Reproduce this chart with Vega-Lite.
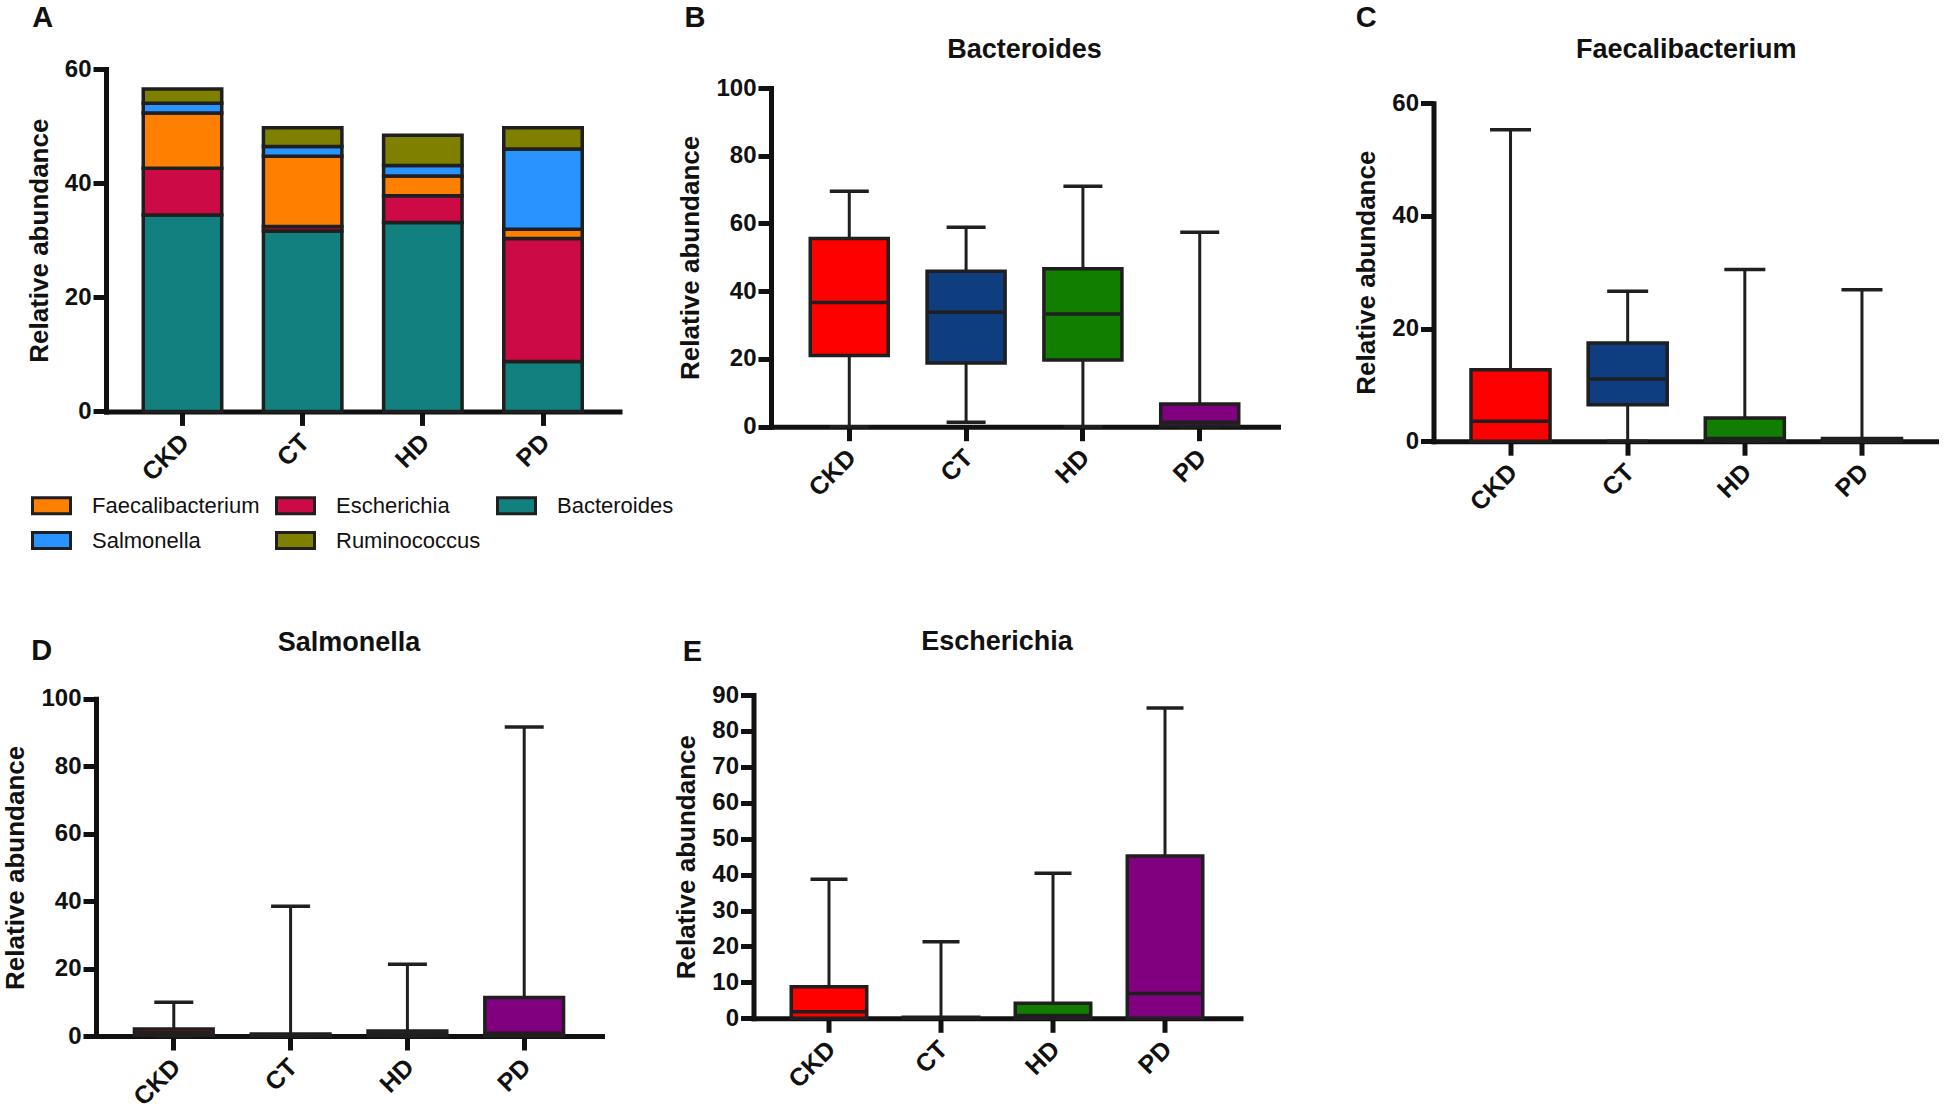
{
  "$schema": "https://vega.github.io/schema/vega-lite/v6.json",
  "padding": {"left": 2, "top": 4, "right": 0, "bottom": 0},
  "config": {
    "view": {"stroke": null},
    "font": "Liberation Sans",
    "axis": {"domainColor": "#111111", "domainWidth": 5, "domainCap": "square", "tickColor": "#111111", "tickWidth": 5, "tickSize": 13, "labelColor": "#111111", "labelFont": "Liberation Sans", "labelFontSize": 24, "labelFontWeight": "bold", "labelPadding": 2, "titleColor": "#111111", "titleFont": "Liberation Sans", "titleFontSize": 26, "titleFontWeight": "bold", "grid": false},
    "axisX": {"labelAngle": -45, "tickSize": 14, "labelPadding": 4, "labelOffset": -6, "labelFontSize": 25},
    "axisY": {"titlePadding": 12},
    "title": {"font": "Liberation Sans", "fontWeight": "bold", "color": "#111111"}
  },
  "datasets": {
    "stack": [
      {"group": "CKD", "genus": "Bacteroides", "value": 34.4, "ord": 1},
      {"group": "CKD", "genus": "Escherichia", "value": 8.2, "ord": 2},
      {"group": "CKD", "genus": "Faecalibacterium", "value": 9.7, "ord": 3},
      {"group": "CKD", "genus": "Salmonella", "value": 1.7, "ord": 4},
      {"group": "CKD", "genus": "Ruminococcus", "value": 2.5, "ord": 5},
      {"group": "CT", "genus": "Bacteroides", "value": 31.6, "ord": 1},
      {"group": "CT", "genus": "Escherichia", "value": 0.8, "ord": 2},
      {"group": "CT", "genus": "Faecalibacterium", "value": 12.3, "ord": 3},
      {"group": "CT", "genus": "Salmonella", "value": 1.7, "ord": 4},
      {"group": "CT", "genus": "Ruminococcus", "value": 3.3, "ord": 5},
      {"group": "HD", "genus": "Bacteroides", "value": 33.1, "ord": 1},
      {"group": "HD", "genus": "Escherichia", "value": 4.7, "ord": 2},
      {"group": "HD", "genus": "Faecalibacterium", "value": 3.45, "ord": 3},
      {"group": "HD", "genus": "Salmonella", "value": 1.85, "ord": 4},
      {"group": "HD", "genus": "Ruminococcus", "value": 5.3, "ord": 5},
      {"group": "PD", "genus": "Bacteroides", "value": 8.75, "ord": 1},
      {"group": "PD", "genus": "Escherichia", "value": 21.55, "ord": 2},
      {"group": "PD", "genus": "Faecalibacterium", "value": 1.6, "ord": 3},
      {"group": "PD", "genus": "Salmonella", "value": 14.1, "ord": 4},
      {"group": "PD", "genus": "Ruminococcus", "value": 3.7, "ord": 5}
    ],
    "bact": [
      {"group": "CKD", "min": 0, "q1": 21.0, "med": 36.7, "q3": 55.6, "max": 69.5},
      {"group": "CT", "min": 1.3, "q1": 18.8, "med": 33.8, "q3": 45.9, "max": 58.9},
      {"group": "HD", "min": 0, "q1": 19.7, "med": 33.3, "q3": 46.6, "max": 71.0},
      {"group": "PD", "min": 0, "q1": 0.2, "med": 1.3, "q3": 6.7, "max": 57.4}
    ],
    "faec": [
      {"group": "CKD", "min": 0, "q1": 0, "med": 3.55, "q3": 12.7, "max": 55.3},
      {"group": "CT", "min": 0, "q1": 6.45, "med": 11.06, "q3": 17.45, "max": 26.6},
      {"group": "HD", "min": 0, "q1": 0.1, "med": 0.5, "q3": 4.1, "max": 30.5},
      {"group": "PD", "min": 0, "q1": 0, "med": 0.15, "q3": 0.5, "max": 26.9}
    ],
    "salm": [
      {"group": "CKD", "min": 0, "q1": 0.2, "med": 1.0, "q3": 2.1, "max": 10.0},
      {"group": "CT", "min": 0, "q1": 0, "med": 0.2, "q3": 0.6, "max": 38.5},
      {"group": "HD", "min": 0, "q1": 0.1, "med": 0.6, "q3": 1.5, "max": 21.3},
      {"group": "PD", "min": 0, "q1": 0, "med": 0.8, "q3": 11.4, "max": 91.6}
    ],
    "esch": [
      {"group": "CKD", "min": 0, "q1": 0, "med": 1.8, "q3": 8.8, "max": 38.7},
      {"group": "CT", "min": 0, "q1": 0, "med": 0.1, "q3": 0.3, "max": 21.3},
      {"group": "HD", "min": 0, "q1": 0, "med": 0.8, "q3": 4.2, "max": 40.4},
      {"group": "PD", "min": 0, "q1": 0, "med": 6.9, "q3": 45.2, "max": 86.4}
    ]
  },
  "resolve": {"scale": {"x": "independent", "y": "independent", "color": "independent"}, "legend": {"color": "independent"}},
  "spacing": 72,
  "vconcat": [
    {
      "spacing": 3,
      "resolve": {"scale": {"x": "independent", "y": "independent", "color": "independent"}, "legend": {"color": "independent"}},
      "hconcat": [
        {
          "title": {"text": "A", "anchor": "start", "frame": "bounds", "dx": 6, "offset": 24, "fontSize": 29},
          "vconcat": [
            {
              "width": 523.5,
              "height": 342.4,
              "data": {"name": "stack"},
              "mark": {"type": "bar", "stroke": "#1f1f1f", "strokeWidth": 3.5},
              "encoding": {
                "x": {"field": "group", "type": "nominal", "title": null, "sort": null, "scale": {"paddingInner": 0.347, "paddingOuter": 0.31, "range": [10, 523.5]}},
                "y": {"field": "value", "type": "quantitative", "stack": "zero", "title": "Relative abundance", "scale": {"domain": [0, 60], "nice": false}, "axis": {"values": [0, 20, 40, 60], "offset": -10}},
                "color": {"field": "genus", "type": "nominal",
                  "scale": {"domain": ["Faecalibacterium", "Salmonella", "Escherichia", "Ruminococcus", "Bacteroides"], "range": ["#FF8000", "#2994FF", "#CC0A46", "#808000", "#12807E"]},
                  "legend": {"orient": "none", "legendX": -65, "legendY": 416, "columns": 3, "title": null,
                    "symbolType": "M-1,-0.42H1V0.42H-1Z", "symbolSize": 1444, "symbolStrokeColor": "#1f1f1f", "symbolStrokeWidth": 3, "symbolOpacity": 1,
                    "labelFontSize": 22, "labelFont": "Liberation Sans", "labelColor": "#111111", "labelOffset": 20, "labelLimit": 400, "columnPadding": 10, "rowPadding": 0}},
                "order": {"field": "ord", "type": "quantitative"}
              }
            }
          ]
        },
        {
          "spacing": 75.5,
          "resolve": {"scale": {"x": "independent", "y": "independent", "color": "independent"}},
          "hconcat": [
            {
              "title": {"text": "B", "anchor": "start", "frame": "bounds", "dx": 6.5, "offset": 3, "fontSize": 29},
              "vconcat": [
                {
                  "title": {"text": "Bacteroides", "anchor": "middle", "frame": "group", "fontSize": 27, "offset": 4.8},
                  "width": 507,
                  "height": 357.7,
                  "data": {"name": "bact"},
                  "encoding": {"x": {"field": "group", "type": "nominal", "title": null, "sort": null, "scale": {"paddingInner": 0.332, "paddingOuter": 0.336}}},
                  "layer": [
                    {"mark": {"type": "rule", "strokeWidth": 3, "color": "#1f1f1f"}, "encoding": {"y": {"field": "min", "type": "quantitative", "title": "Relative abundance", "scale": {"domain": [0, 100], "nice": false, "range": [357.7, 19]}, "axis": {"values": [0, 20, 40, 60, 80, 100]}}, "y2": {"field": "max"}}},
                    {"mark": {"type": "tick", "size": 39, "thickness": 3.5, "color": "#1f1f1f", "opacity": 1}, "encoding": {"y": {"field": "max", "type": "quantitative", "title": "Relative abundance", "axis": {"values": [0, 20, 40, 60, 80, 100]}}}},
                    {"mark": {"type": "tick", "size": 39, "thickness": 3.5, "color": "#1f1f1f", "opacity": 1}, "encoding": {"y": {"field": "min", "type": "quantitative", "title": "Relative abundance", "axis": {"values": [0, 20, 40, 60, 80, 100]}}}},
                    {"mark": {"type": "bar", "stroke": "#1f1f1f", "strokeWidth": 3.5, "opacity": 1}, "encoding": {"y": {"field": "q1", "type": "quantitative", "title": "Relative abundance", "axis": {"values": [0, 20, 40, 60, 80, 100]}}, "y2": {"field": "q3"}, "color": {"field": "group", "type": "nominal", "legend": null, "scale": {"domain": ["CKD", "CT", "HD", "PD"], "range": ["#FF0000", "#0E3D80", "#117E00", "#800080"]}}}},
                    {"mark": {"type": "tick", "size": 75, "thickness": 3.5, "color": "#1f1f1f", "opacity": 1}, "encoding": {"y": {"field": "med", "type": "quantitative", "title": "Relative abundance", "axis": {"values": [0, 20, 40, 60, 80, 100]}}}}
                  ]
                }
              ]
            },
            {
              "title": {"text": "C", "anchor": "start", "frame": "bounds", "dx": 2, "offset": 3, "fontSize": 29},
              "vconcat": [
                {
                  "title": {"text": "Faecalibacterium", "anchor": "middle", "frame": "group", "fontSize": 27, "offset": 4.8},
                  "width": 505.5,
                  "height": 372.2,
                  "data": {"name": "faec"},
                  "encoding": {"x": {"field": "group", "type": "nominal", "title": null, "sort": null, "scale": {"paddingInner": 0.325, "paddingOuter": 0.32}}},
                  "layer": [
                    {"mark": {"type": "rule", "strokeWidth": 3, "color": "#1f1f1f"}, "encoding": {"y": {"field": "min", "type": "quantitative", "title": "Relative abundance", "scale": {"domain": [0, 60], "nice": false, "range": [372.2, 34.2]}, "axis": {"values": [0, 20, 40, 60]}}, "y2": {"field": "max"}}},
                    {"mark": {"type": "tick", "size": 41, "thickness": 3.5, "color": "#1f1f1f", "opacity": 1}, "encoding": {"y": {"field": "max", "type": "quantitative", "title": "Relative abundance", "axis": {"values": [0, 20, 40, 60]}}}},
                    {"mark": {"type": "tick", "size": 41, "thickness": 3.5, "color": "#1f1f1f", "opacity": 1}, "encoding": {"y": {"field": "min", "type": "quantitative", "title": "Relative abundance", "axis": {"values": [0, 20, 40, 60]}}}},
                    {"mark": {"type": "bar", "stroke": "#1f1f1f", "strokeWidth": 3.5, "opacity": 1}, "encoding": {"y": {"field": "q1", "type": "quantitative", "title": "Relative abundance", "axis": {"values": [0, 20, 40, 60]}}, "y2": {"field": "q3"}, "color": {"field": "group", "type": "nominal", "legend": null, "scale": {"domain": ["CKD", "CT", "HD", "PD"], "range": ["#FF0000", "#0E3D80", "#117E00", "#800080"]}}}},
                    {"mark": {"type": "tick", "size": 76, "thickness": 3.5, "color": "#1f1f1f", "opacity": 1}, "encoding": {"y": {"field": "med", "type": "quantitative", "title": "Relative abundance", "axis": {"values": [0, 20, 40, 60]}}}}
                  ]
                }
              ]
            }
          ]
        }
      ]
    },
    {
      "spacing": 71.5,
      "resolve": {"scale": {"x": "independent", "y": "independent", "color": "independent"}, "legend": {"color": "independent"}},
      "hconcat": [
        {
          "title": {"text": "D", "anchor": "start", "frame": "bounds", "dx": 28.4, "offset": -37.5, "fontSize": 29},
          "vconcat": [
            {
              "title": {"text": "Salmonella", "anchor": "middle", "frame": "group", "fontSize": 27, "offset": 30.2},
              "width": 506,
              "height": 341,
              "data": {"name": "salm"},
              "encoding": {"x": {"field": "group", "type": "nominal", "title": null, "sort": null, "scale": {"paddingInner": 0.326, "paddingOuter": 0.329}}},
              "layer": [
                {"mark": {"type": "rule", "strokeWidth": 3, "color": "#1f1f1f"}, "encoding": {"y": {"field": "min", "type": "quantitative", "title": "Relative abundance", "scale": {"domain": [0, 100], "nice": false, "range": [341, 3.7]}, "axis": {"values": [0, 20, 40, 60, 80, 100]}}, "y2": {"field": "max"}}},
                {"mark": {"type": "tick", "size": 39, "thickness": 3.5, "color": "#1f1f1f", "opacity": 1}, "encoding": {"y": {"field": "max", "type": "quantitative", "title": "Relative abundance", "axis": {"values": [0, 20, 40, 60, 80, 100]}}}},
                {"mark": {"type": "tick", "size": 39, "thickness": 3.5, "color": "#1f1f1f", "opacity": 1}, "encoding": {"y": {"field": "min", "type": "quantitative", "title": "Relative abundance", "axis": {"values": [0, 20, 40, 60, 80, 100]}}}},
                {"mark": {"type": "bar", "stroke": "#1f1f1f", "strokeWidth": 3.5, "opacity": 1}, "encoding": {"y": {"field": "q1", "type": "quantitative", "title": "Relative abundance", "axis": {"values": [0, 20, 40, 60, 80, 100]}}, "y2": {"field": "q3"}, "color": {"field": "group", "type": "nominal", "legend": null, "scale": {"domain": ["CKD", "CT", "HD", "PD"], "range": ["#FF0000", "#0E3D80", "#117E00", "#800080"]}}}},
                {"mark": {"type": "tick", "size": 75, "thickness": 3.5, "color": "#1f1f1f", "opacity": 1}, "encoding": {"y": {"field": "med", "type": "quantitative", "title": "Relative abundance", "axis": {"values": [0, 20, 40, 60, 80, 100]}}}}
              ]
            }
          ]
        },
        {
          "title": {"text": "E", "anchor": "start", "frame": "bounds", "dx": 9, "offset": -39.5, "fontSize": 29},
          "vconcat": [
            {
              "title": {"text": "Escherichia", "anchor": "middle", "frame": "group", "fontSize": 27, "offset": 27.5},
              "width": 487,
              "height": 323.3,
              "data": {"name": "esch"},
              "encoding": {"x": {"field": "group", "type": "nominal", "title": null, "sort": null, "scale": {"paddingInner": 0.326, "paddingOuter": 0.337}}},
              "layer": [
                {"mark": {"type": "rule", "strokeWidth": 3, "color": "#1f1f1f"}, "encoding": {"y": {"field": "min", "type": "quantitative", "title": "Relative abundance", "scale": {"domain": [0, 90], "nice": false}, "axis": {"values": [0, 10, 20, 30, 40, 50, 60, 70, 80, 90]}}, "y2": {"field": "max"}}},
                {"mark": {"type": "tick", "size": 37, "thickness": 3.5, "color": "#1f1f1f", "opacity": 1}, "encoding": {"y": {"field": "max", "type": "quantitative", "title": "Relative abundance", "axis": {"values": [0, 10, 20, 30, 40, 50, 60, 70, 80, 90]}}}},
                {"mark": {"type": "tick", "size": 37, "thickness": 3.5, "color": "#1f1f1f", "opacity": 1}, "encoding": {"y": {"field": "min", "type": "quantitative", "title": "Relative abundance", "axis": {"values": [0, 10, 20, 30, 40, 50, 60, 70, 80, 90]}}}},
                {"mark": {"type": "bar", "stroke": "#1f1f1f", "strokeWidth": 3.5, "opacity": 1}, "encoding": {"y": {"field": "q1", "type": "quantitative", "title": "Relative abundance", "axis": {"values": [0, 10, 20, 30, 40, 50, 60, 70, 80, 90]}}, "y2": {"field": "q3"}, "color": {"field": "group", "type": "nominal", "legend": null, "scale": {"domain": ["CKD", "CT", "HD", "PD"], "range": ["#FF0000", "#0E3D80", "#117E00", "#800080"]}}}},
                {"mark": {"type": "tick", "size": 72, "thickness": 3.5, "color": "#1f1f1f", "opacity": 1}, "encoding": {"y": {"field": "med", "type": "quantitative", "title": "Relative abundance", "axis": {"values": [0, 10, 20, 30, 40, 50, 60, 70, 80, 90]}}}}
              ]
            }
          ]
        }
      ]
    }
  ]
}
